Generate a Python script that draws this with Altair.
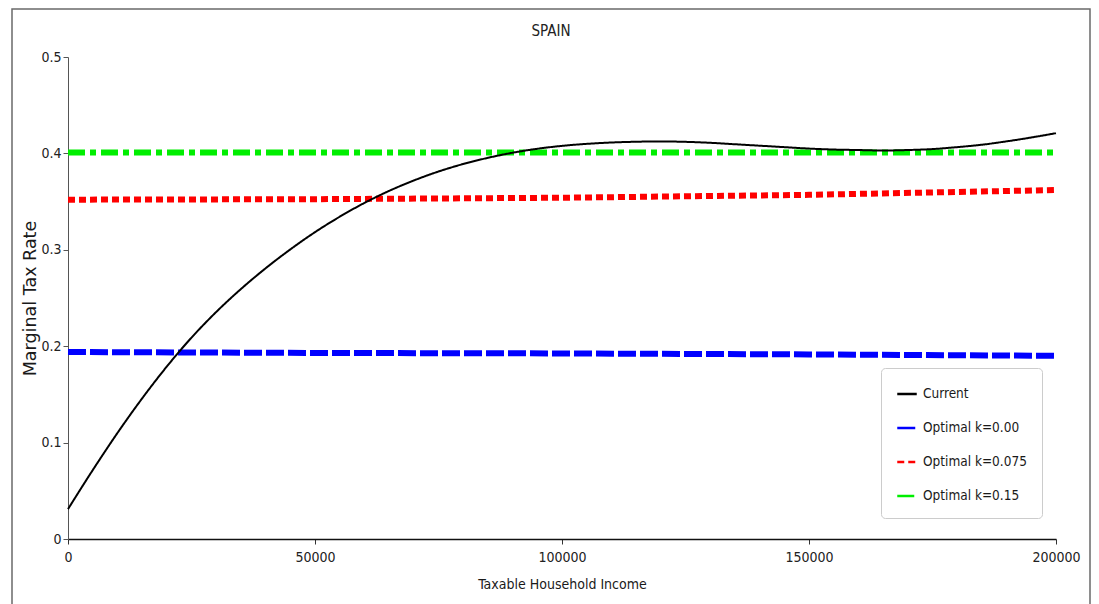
import altair as alt
import pandas as pd

# Current marginal tax rate curve
cur_income = [0, 5000, 10000, 15000, 20000, 25000, 30000, 35000, 40000, 45000,
              50000, 55000, 60000, 65000, 70000, 75000, 80000, 85000, 90000, 95000,
              100000, 105000, 110000, 115000, 120000, 125000, 130000, 135000, 140000,
              145000, 150000, 155000, 160000, 165000, 170000, 175000, 180000,
              185000, 190000, 195000, 200000]
cur_rate = [0.031, 0.0714, 0.1099, 0.1458, 0.1789, 0.2089, 0.2355, 0.2593, 0.2808, 0.3004,
            0.3183, 0.3343, 0.3486, 0.3611, 0.3719, 0.3812, 0.389, 0.3954, 0.4007, 0.4048,
            0.4078, 0.4099, 0.4113, 0.4121, 0.4124, 0.412, 0.411, 0.4095, 0.408,
            0.4065, 0.405, 0.404, 0.4035, 0.403, 0.4035, 0.4045, 0.4065,
            0.409, 0.4125, 0.4165, 0.421]

# Optimal schedules
opt_income = [0, 50000, 100000, 150000, 200000]
opt_k000 = [0.194, 0.193, 0.1925, 0.1915, 0.190]
opt_k075 = [0.352, 0.3525, 0.354, 0.357, 0.362]
opt_k015 = [0.401, 0.401, 0.401, 0.401, 0.401]

series = ["Current", "Optimal k=0.00", "Optimal k=0.075", "Optimal k=0.15"]
colors = ["#000000", "#0000ff", "#ff0000", "#00ee00"]
dashes = [[1, 0], [18, 4], [7, 4], [17, 5, 6, 5]]

x_ticks = [0, 50000, 100000, 150000, 200000]
y_ticks = [0, 0.1, 0.2, 0.3, 0.4, 0.5]

rows = []
for x, y in zip(cur_income, cur_rate):
    rows.append({"income": x, "rate": y, "series": series[0]})
for name, vals in zip(series[1:], [opt_k000, opt_k075, opt_k015]):
    for x, y in zip(opt_income, vals):
        rows.append({"income": x, "rate": y, "series": name})
df = pd.DataFrame(rows)

FONT = "DejaVu Sans Condensed, DejaVu Sans, sans-serif"

x_enc = alt.X("income:Q", scale=alt.Scale(domain=[0, 200000], nice=False),
              axis=alt.Axis(values=x_ticks, format="d", title="Taxable Household Income",
                            domainColor="#111", domainWidth=1.5, tickColor="#333",
                            tickSize=5, labelPadding=6, titlePadding=13,
                            labelFlush=False))
y_enc = alt.Y("rate:Q", scale=alt.Scale(domain=[0, 0.5], nice=False),
              axis=alt.Axis(values=y_ticks, format="~g", title="Marginal Tax Rate",
                            titleFont="DejaVu Sans", titleFontSize=17.5,
                            domainColor="#555", tickColor="#555", tickSize=5,
                            labelPadding=2, titlePadding=1))
color_enc = alt.Color("series:N", scale=alt.Scale(domain=series, range=colors),
                      legend=alt.Legend(title=None, orient="none", legendX=813, legendY=311,
                                        symbolType="stroke", symbolSize=380,
                                        symbolStrokeWidth=2.5,
                                        labelFont=FONT, labelFontSize=13.5,
                                        labelColor="#1a1a1a", labelOffset=5,
                                        rowPadding=16, padding=15,
                                        fillColor="white", strokeColor="#cccccc",
                                        cornerRadius=4))
dash_enc = alt.StrokeDash("series:N", scale=alt.Scale(domain=series, range=dashes),
                          legend=None)

opt_layer = alt.Chart(df).transform_filter(alt.datum.series != "Current").mark_line(
    strokeCap="butt", strokeWidth=6).encode(x=x_enc, y=y_enc, color=color_enc,
                                            strokeDash=dash_enc)
cur_layer = alt.Chart(df).transform_filter(alt.datum.series == "Current").mark_line(
    interpolate="monotone", strokeWidth=2).encode(x=x_enc, y=y_enc, color=color_enc,
                                                  strokeDash=dash_enc)

frame = alt.Chart(pd.DataFrame({"f": [0]})).mark_rect(
    filled=False, stroke="#6a6a6a", strokeWidth=1.5).encode(
    x=alt.value(-56), x2=alt.value(1022), y=alt.value(-48), y2=alt.value(560))

title = alt.Chart(pd.DataFrame({"t": ["SPAIN"]})).mark_text(
    font=FONT, fontSize=15, color="#222", baseline="middle", align="center").encode(
    text="t:N", x=alt.value(483), y=alt.value(-26))

chart = alt.layer(frame, title, opt_layer, cur_layer).properties(
    width=988, height=482,
    autosize=alt.AutoSizeParams(type="none"),
    padding={"left": 68, "top": 57, "right": 43, "bottom": 65},
    background="white",
).configure_view(stroke=None).configure_axis(
    grid=False, labelFont=FONT, labelFontSize=14, labelColor="#222",
    titleFont=FONT, titleFontSize=14, titleColor="#1a1a1a", titleFontWeight="normal"
)

chart.save("out.html", embed_options={"renderer": "svg", "actions": False})
